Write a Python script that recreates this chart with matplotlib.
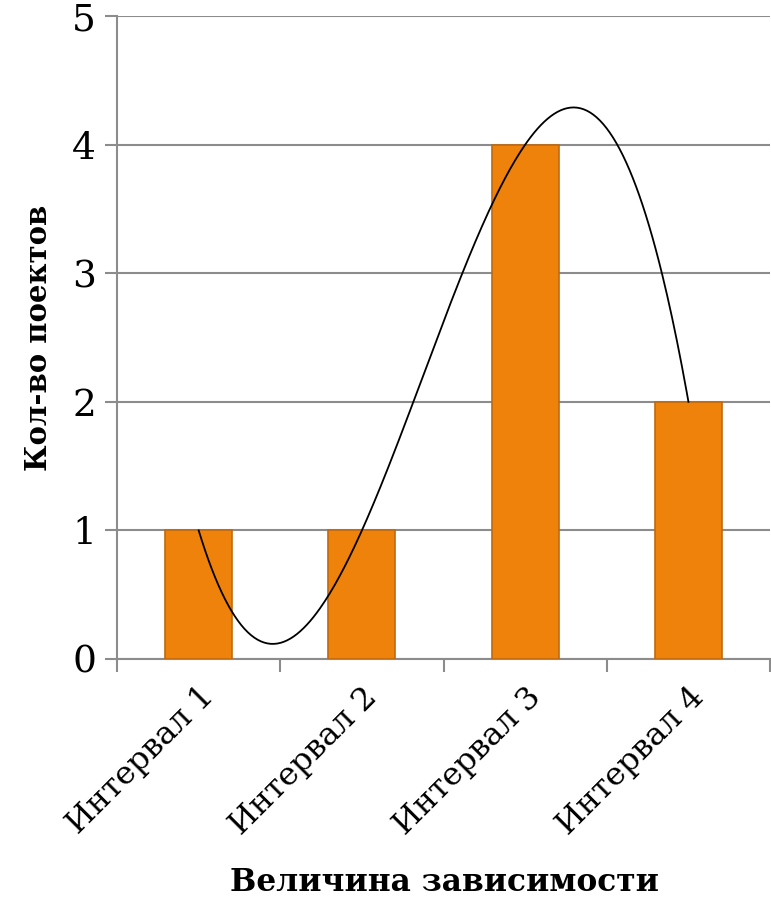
import numpy as np
import matplotlib as mpl
import matplotlib.pyplot as plt

mpl.use("Agg")

categories = ["Интервал 1", "Интервал 2", "Интервал 3", "Интервал 4"]
counts = [1, 1, 4, 2]
y_ticks = [0, 1, 2, 3, 4, 5]

plt.rcParams["font.family"] = ["DejaVu Serif"]

fig = plt.figure(figsize=(7.71, 9), dpi=100)
ax = fig.add_axes([0.1518, 0.2678, 0.847, 0.7144])

x = np.arange(len(categories))
ax.bar(x, counts, width=0.41, color="#EE820A", edgecolor="#C0690F",
       linewidth=1.2, zorder=3)

# cubic polynomial trend line through the bar tops
coef = np.polyfit(x, counts, 3)
xs = np.linspace(x[0], x[-1], 300)
ax.plot(xs, np.polyval(coef, xs), color="black", linewidth=1.3, zorder=4)

ax.set_xlim(-0.5, len(categories) - 0.5)
ax.set_ylim(0, 5)
ax.set_yticks(y_ticks)
ax.yaxis.grid(True, color="#8c8c8c", linewidth=1.5, zorder=0)
ax.set_axisbelow(True)

ax.set_xticks(x)
ax.set_xticklabels(categories, rotation=45, ha="right", rotation_mode="anchor",
                   fontsize=23)
ax.set_xticks(np.arange(-0.5, len(categories)), minor=True)
ax.tick_params(axis="x", which="major", length=0, pad=16)
ax.tick_params(axis="x", which="minor", length=9, width=1.5, color="#8c8c8c")
ax.tick_params(axis="y", length=9, width=1.5, color="#8c8c8c", labelsize=27,
               pad=6)

for side in ["top", "right"]:
    ax.spines[side].set_visible(False)
for side in ["left", "bottom"]:
    ax.spines[side].set_color("#8c8c8c")
    ax.spines[side].set_linewidth(1.5)

ax.set_ylabel("Кол-во поектов", fontsize=21, fontweight="bold", labelpad=14)
fig.text(0.576, 0.002, "Величина зависимости", fontsize=22.5,
         fontweight="bold", ha="center", va="bottom")

plt.savefig("out.png", dpi=100)
plt.close(fig)
